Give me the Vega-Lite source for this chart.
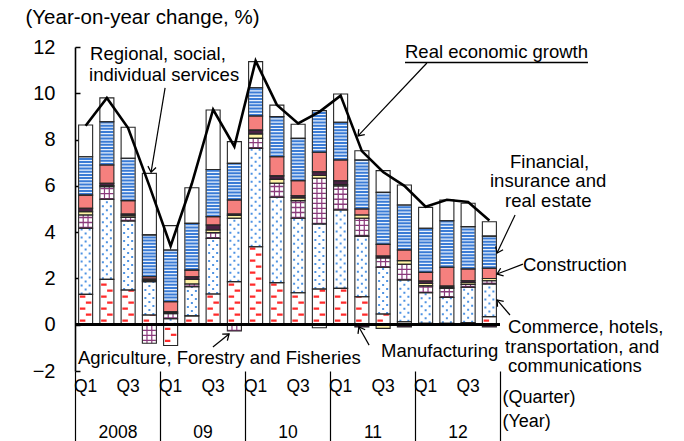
{
  "$schema": "https://vega.github.io/schema/vega-lite/v6.json",
  "width": 425,
  "height": 324,
  "autosize": {"type": "none"},
  "padding": {"left": 75, "top": 47, "right": 184, "bottom": 70},
  "background": "#ffffff",
  "config": {
    "font": "Liberation Sans",
    "view": {"stroke": null},
    "axis": {"labelFont": "Liberation Sans", "titleFont": "Liberation Sans", "labelColor": "#000000", "titleColor": "#000000", "titleFontWeight": "normal"},
    "text": {"font": "Liberation Sans"}
  },
  "datasets": {
    "gdp": [
      {"q": "2008Q1", "Manufacturing": 1.31, "Commerce": 2.86, "Agriculture": 0.57, "Electricity": 0.14, "Mining": 0.15, "Construction": 0.57, "Financial": 1.66, "Services": 1.37, "growth": 8.6},
      {"q": "2008Q2", "Manufacturing": 1.96, "Commerce": 3.46, "Agriculture": 0.54, "Electricity": 0.05, "Mining": 0.10, "Construction": 0.79, "Financial": 1.87, "Services": 1.03, "growth": 9.8},
      {"q": "2008Q3", "Manufacturing": 1.5, "Commerce": 2.98, "Agriculture": 0.16, "Electricity": 0.07, "Mining": 0.07, "Construction": 0.58, "Financial": 1.83, "Services": 1.34, "growth": 8.5},
      {"q": "2008Q4", "Manufacturing": 0.42, "Commerce": 1.44, "Agriculture": -0.8, "Electricity": 0.05, "Mining": 0.06, "Construction": 0.1, "Financial": 1.81, "Services": 2.66, "growth": 6.0},
      {"q": "2009Q1", "Manufacturing": -0.9, "Commerce": 0.26, "Agriculture": 0.22, "Electricity": 0.04, "Mining": 0.04, "Construction": 0.43, "Financial": 2.24, "Services": 1.05, "growth": 3.4},
      {"q": "2009Q2", "Manufacturing": 0.38, "Commerce": 1.26, "Agriculture": 0.12, "Electricity": 0.2, "Mining": 0.11, "Construction": 0.29, "Financial": 2.02, "Services": 1.54, "growth": 6.1},
      {"q": "2009Q3", "Manufacturing": 1.33, "Commerce": 2.4, "Agriculture": 0.25, "Electricity": 0.11, "Mining": 0.22, "Construction": 0.36, "Financial": 2.04, "Services": 2.57, "growth": 9.3},
      {"q": "2009Q4", "Manufacturing": 1.86, "Commerce": 2.74, "Agriculture": -0.27, "Electricity": 0.12, "Mining": 0.06, "Construction": 0.61, "Financial": 1.58, "Services": 0.94, "growth": 7.7},
      {"q": "2010Q1", "Manufacturing": 3.37, "Commerce": 4.25, "Agriculture": 0.43, "Electricity": 0.19, "Mining": 0.17, "Construction": 0.61, "Financial": 1.22, "Services": 1.13, "growth": 11.4},
      {"q": "2010Q2", "Manufacturing": 1.82, "Commerce": 3.69, "Agriculture": 0.6, "Electricity": 0.17, "Mining": 0.15, "Construction": 0.83, "Financial": 1.73, "Services": 0.5, "growth": 9.5},
      {"q": "2010Q3", "Manufacturing": 1.38, "Commerce": 3.22, "Agriculture": 0.76, "Electricity": 0.12, "Mining": 0.09, "Construction": 0.65, "Financial": 1.83, "Services": 0.61, "growth": 8.7},
      {"q": "2010Q4", "Manufacturing": 1.54, "Commerce": 2.81, "Agriculture": 1.98, "Electricity": 0.12, "Mining": 0.16, "Construction": 0.84, "Financial": 1.8, "Services": -0.13, "growth": 9.2},
      {"q": "2011Q1", "Manufacturing": 1.57, "Commerce": 3.39, "Agriculture": 1.04, "Electricity": 0.06, "Mining": 0.16, "Construction": 0.9, "Financial": 1.63, "Services": 1.22, "growth": 9.9},
      {"q": "2011Q2", "Manufacturing": 1.21, "Commerce": 2.62, "Agriculture": 0.77, "Electricity": 0.14, "Mining": -0.1, "Construction": 0.26, "Financial": 2.12, "Services": 0.4, "growth": 7.5},
      {"q": "2011Q3", "Manufacturing": 0.46, "Commerce": 2.02, "Agriculture": 0.4, "Electricity": -0.16, "Mining": 0.09, "Construction": 0.5, "Financial": 2.25, "Services": 0.94, "growth": 6.6},
      {"q": "2011Q4", "Manufacturing": 0.13, "Commerce": 1.8, "Agriculture": 0.68, "Electricity": 0.16, "Mining": -0.1, "Construction": 0.46, "Financial": 1.94, "Services": 0.87, "growth": 6.0},
      {"q": "2012Q1", "Manufacturing": 0.06, "Commerce": 1.32, "Agriculture": 0.3, "Electricity": 0.1, "Mining": 0.11, "Construction": 0.37, "Financial": 1.91, "Services": 0.9, "growth": 5.1},
      {"q": "2012Q2", "Manufacturing": 0.06, "Commerce": 1.12, "Agriculture": 0.39, "Electricity": 0.05, "Mining": 0.05, "Construction": 0.81, "Financial": 2.01, "Services": 0.9, "growth": 5.4},
      {"q": "2012Q3", "Manufacturing": 0.09, "Commerce": 1.53, "Agriculture": 0.12, "Electricity": 0.08, "Mining": 0.08, "Construction": 0.51, "Financial": 1.83, "Services": 1.01, "growth": 5.3},
      {"q": "2012Q4", "Manufacturing": 0.35, "Commerce": 1.41, "Agriculture": 0.14, "Electricity": 0.1, "Mining": -0.1, "Construction": 0.44, "Financial": 1.39, "Services": 0.62, "growth": 4.5}
    ],
    "years": [{"year": "2008"}, {"year": "09"}, {"year": "10"}, {"year": "11"}, {"year": "12"}],
    "notes": [
      {"label": "Regional, social,", "x": 0.71, "y": 11.70},
      {"label": "individual services", "x": 0.66, "y": 10.79},
      {"label": "Real economic growth", "x": 15.53, "y": 11.78},
      {"label": "Financial,", "x": 20.47, "y": 7.03},
      {"label": "insurance and", "x": 19.53, "y": 6.20},
      {"label": "real estate", "x": 20.24, "y": 5.35},
      {"label": "Construction", "x": 21.08, "y": 2.56},
      {"label": "Commerce, hotels,", "x": 20.38, "y": -0.12},
      {"label": "transportation, and", "x": 20.24, "y": -0.96},
      {"label": "communications", "x": 20.38, "y": -1.78},
      {"label": "Agriculture, Forestry and Fisheries", "x": 0.14, "y": -1.44},
      {"label": "Manufacturing", "x": 14.40, "y": -1.14}
    ],
    "arrows": [
      {"x": 4.24, "y": 10.23, "x2": 3.58, "y2": 6.59},
      {"x": 16.56, "y": 11.31, "x2": 13.32, "y2": 8.16},
      {"x": 20.71, "y": 4.74, "x2": 19.86, "y2": 3.10},
      {"x": 21.08, "y": 2.62, "x2": 19.86, "y2": 2.19},
      {"x": 20.47, "y": 0.42, "x2": 19.86, "y2": 1.07},
      {"x": 6.49, "y": -0.96, "x2": 7.25, "y2": -0.40},
      {"x": 13.84, "y": -0.88, "x2": 13.36, "y2": -0.10}
    ]
  },
  "layer": [
    {
      "data": {"name": "gdp"},
      "layer": [
        {
          "transform": [
            {"fold": ["Manufacturing", "Commerce", "Agriculture", "Electricity", "Mining", "Construction", "Financial", "Services"]},
            {"calculate": "indexof(['Manufacturing','Commerce','Agriculture','Electricity','Mining','Construction','Financial','Services'], datum.key)", "as": "ord"},
            {"stack": "value", "groupby": ["q"], "sort": [{"field": "ord", "order": "ascending"}], "as": ["y0", "y1"]}
          ],
          "encoding": {
            "x": {
              "field": "q", "type": "ordinal", "title": "(Quarter)",
              "scale": {"paddingInner": 0.34, "paddingOuter": 0.17},
              "axis": {
                "orient": "bottom", "titleAlign": "left", "titleBaseline": "middle",
                "titleX": 427, "titleY": 26, "titleFontSize": 18, "titleAnchor": "start",
                "labelExpr": "slice(datum.value, 4) === 'Q1' || slice(datum.value, 4) === 'Q3' ? slice(datum.value, 4) : ''",
                "labelAngle": 0, "labelFontSize": 17.5, "labelPadding": 6, "ticks": false, "domain": false, "labelOverlap": false
              }
            },
            "y": {
              "field": "y0", "type": "quantitative", "title": "(Year-on-year change, %)",
              "scale": {"domain": [-2, 12], "nice": false},
              "axis": {
                "values": [-2, 0, 2, 4, 6, 8, 10, 12],
                "titleAngle": 0, "titleAlign": "left", "titleBaseline": "middle", "titleX": -50, "titleY": -30,
                "titleFontSize": 20.5, "labelFontSize": 20, "labelPadding": 25, "tickSize": -5,
                "tickColor": "#000000", "tickWidth": 1.5, "domainColor": "#000000", "domainWidth": 1.6, "grid": false
              }
            },
            "y2": {"field": "y1"}
          },
          "layer": [
            {
              "mark": {"type": "bar"},
              "encoding": {
                "fill": {
                  "field": "key", "type": "nominal", "legend": null,
                  "scale": {
                    "domain": ["Manufacturing", "Commerce", "Agriculture", "Electricity", "Mining", "Construction", "Financial", "Services"],
                    "range": ["#ffffff", "#ffffff", "#ffffff", "#fff3a6", "#4b2244", "#f5807e", "#eaf2fc", "#ffffff"]
                  }
                }
              }
            },
            {"transform": [{"filter": "datum.key === 'Financial'"}], "mark": {"type": "rule", "stroke": "#3a7bd5", "strokeWidth": 13, "strokeDash": [2, 1.2]}},
            {"transform": [{"filter": "datum.key === 'Manufacturing'"}], "mark": {"type": "rule", "stroke": "#ff2b2b", "strokeWidth": 5.5, "strokeDash": [2.2, 9.8], "strokeDashOffset": -3, "xOffset": -3}},
            {"transform": [{"filter": "datum.key === 'Manufacturing'"}], "mark": {"type": "rule", "stroke": "#ff2b2b", "strokeWidth": 5.5, "strokeDash": [2.2, 9.8], "strokeDashOffset": 3, "xOffset": 3}},
            {"transform": [{"filter": "datum.key === 'Commerce'"}], "mark": {"type": "rule", "stroke": "#4e93e3", "strokeWidth": 2, "strokeDash": [2, 6], "xOffset": -4}},
            {"transform": [{"filter": "datum.key === 'Commerce'"}], "mark": {"type": "rule", "stroke": "#4e93e3", "strokeWidth": 2, "strokeDash": [2, 6], "strokeDashOffset": 4}},
            {"transform": [{"filter": "datum.key === 'Commerce'"}], "mark": {"type": "rule", "stroke": "#4e93e3", "strokeWidth": 2, "strokeDash": [2, 6], "xOffset": 4}},
            {"transform": [{"filter": "datum.key === 'Agriculture'"}], "mark": {"type": "rule", "stroke": "#8b3a7c", "strokeWidth": 13, "strokeDash": [1.4, 3.6]}},
            {"transform": [{"filter": "datum.key === 'Agriculture'"}], "mark": {"type": "rule", "stroke": "#8b3a7c", "strokeWidth": 1.2, "xOffset": -2.4}},
            {"transform": [{"filter": "datum.key === 'Agriculture'"}], "mark": {"type": "rule", "stroke": "#8b3a7c", "strokeWidth": 1.2, "xOffset": 2.4}},
            {"mark": {"type": "bar", "fillOpacity": 0, "stroke": "#262626", "strokeWidth": 1.1}}
          ]
        },
        {
          "mark": {"type": "line", "color": "#000000", "strokeWidth": 2.6},
          "encoding": {
            "x": {"field": "q", "type": "ordinal", "title": "(Quarter)"},
            "y": {"field": "growth", "type": "quantitative", "title": "(Year-on-year change, %)"}
          }
        },
        {
          "mark": {"type": "rule", "color": "#000000", "strokeWidth": 2.5},
          "encoding": {"y": {"datum": 0, "type": "quantitative", "title": "(Year-on-year change, %)"}}
        }
      ]
    },
    {
      "data": {"name": "years"},
      "mark": {"type": "text", "opacity": 0},
      "encoding": {
        "x": {
          "field": "year", "type": "ordinal", "sort": null, "title": "(Year)",
          "scale": {"paddingInner": 0, "paddingOuter": 0},
          "axis": {
            "orient": "bottom", "titleAlign": "left", "titleBaseline": "middle",
            "titleX": 427, "titleY": 50, "titleFontSize": 18, "titleAnchor": "start",
            "labelAngle": 0, "labelFontSize": 17.5, "labelBaseline": "middle", "labelPadding": -9,
            "tickSize": 70, "tickBand": "extent", "tickColor": "#000000", "tickWidth": 1.2, "domain": false
          }
        },
        "text": {"field": "year"}
      }
    },
    {
      "layer": [
        {
          "data": {"name": "notes"},
          "mark": {"type": "text", "align": "left", "baseline": "middle", "fontSize": 18.5, "color": "#000000"},
          "encoding": {
            "x": {"field": "x", "type": "quantitative", "scale": {"domain": [0, 20], "nice": false, "zero": false}, "axis": null},
            "y": {"field": "y", "type": "quantitative", "scale": {"domain": [-2, 12], "nice": false, "zero": false}, "axis": null},
            "text": {"field": "label"}
          }
        },
        {
          "data": {"values": [{"x": 15.53, "x2": 24.14, "y": 11.33}]},
          "mark": {"type": "rule", "color": "#000000", "strokeWidth": 1.3},
          "encoding": {
            "x": {"field": "x", "type": "quantitative", "axis": null},
            "x2": {"field": "x2"},
            "y": {"field": "y", "type": "quantitative", "axis": null}
          }
        },
        {
          "data": {"name": "arrows"},
          "mark": {"type": "rule", "color": "#000000", "strokeWidth": 1.2},
          "encoding": {
            "x": {"field": "x", "type": "quantitative", "axis": null},
            "x2": {"field": "x2"},
            "y": {"field": "y", "type": "quantitative", "axis": null},
            "y2": {"field": "y2"}
          }
        },
        {
          "data": {"name": "arrows"},
          "transform": [{"calculate": "atan2(-(datum.y2 - datum.y) * 23.14, (datum.x2 - datum.x) * 21.25) * 180 / PI", "as": "ang"}],
          "mark": {"type": "point", "shape": "M-1,-0.75L0,0L-1,0.75", "filled": false, "stroke": "#000000", "strokeWidth": 1.3, "size": 120, "opacity": 1},
          "encoding": {
            "x": {"field": "x2", "type": "quantitative", "axis": null},
            "y": {"field": "y2", "type": "quantitative", "axis": null},
            "angle": {"field": "ang", "type": "quantitative", "scale": null}
          }
        }
      ]
    }
  ],
  "resolve": {"scale": {"x": "independent", "y": "independent"}}
}
